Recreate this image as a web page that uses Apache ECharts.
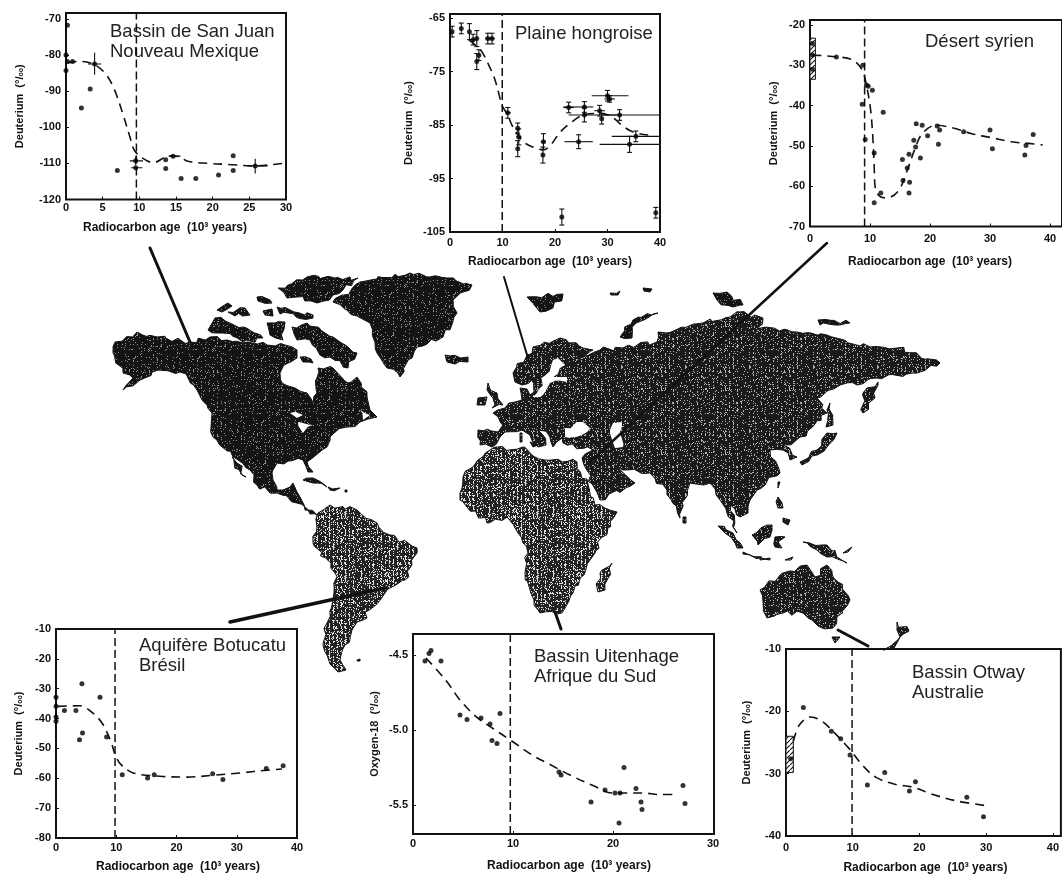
<!DOCTYPE html>
<html>
<head>
<meta charset="utf-8">
<style>html,body{margin:0;padding:0;background:#fff}#c{width:1062px;height:877px}</style>
<script src="https://cdn.jsdelivr.net/npm/echarts@6/dist/echarts.min.js"></script>
</head>
<body>
<div id="c"></div>
<script>
// ---------- Panel data (x in 10^3 years, y in per mil) ----------
const sanJuanPoints = [[0.2,-71.8],[0,-80],[0,-84.3],[0.2,-81.8],[0.9,-81.8],[2.1,-94.7],[3.3,-89.4],[3.9,-82.5],[7,-112],[9.5,-109.3],[9.5,-111.2],[13.6,-109],[13.6,-111.4],[14.6,-108],[15.7,-114.2],[17.7,-114.2],[20.8,-113.2],[22.8,-107.9],[22.8,-112],[25.8,-110.7]];
const sanJuanCurve = [[0.2,-82.2],[1.8,-81.8],[3.9,-82.7],[5.5,-85.5],[6.6,-89.6],[7.8,-96.6],[8.7,-102.6],[9.3,-106.3],[10.5,-108.6],[11.9,-109.8],[14.1,-107.9],[15.3,-108.1],[16.6,-109.4],[19.4,-110],[22.1,-110.3],[25.5,-110.7],[29.6,-110]];
const sanJuanErrors = [[3.9,-82.5,3,4.8,-85.5,-79.4],[9.5,-109.3,8.7,10.5,-110.5,-108],[9.5,-111.2,8.9,10.4,-111.2,-111.2],[25.8,-110.7,24.7,27.5,-112.8,-108.7],[14.6,-108,14,15.6,-108,-108]];
const plainePoints = [[0.4,-67.5],[2.15,-66.9],[3.7,-67.5],[4.4,-69],[5.1,-68.8],[5.1,-73.1],[5.5,-71.9],[7.2,-68.8],[8,-68.8],[11,-82.7],[12.9,-85.6],[13.1,-87.2],[12.9,-89.4],[17.7,-90.6],[17.8,-88.1],[21.3,-102.2],[22.6,-81.7],[24.5,-88.1],[25.6,-81.6],[25.6,-83.1],[28.5,-82.3],[28.9,-83.8],[30,-79.5],[30.4,-80.1],[32.3,-83.1],[34.2,-88.6],[35.4,-87.1],[39.2,-101.4]];
const plaineCurve = [[3.6,-69.1],[5.8,-70.9],[7.4,-73.8],[8.5,-76.3],[9.3,-79.1],[9.9,-81.3],[11,-83.1],[11.8,-85],[13.7,-87.8],[15.3,-88.9],[17.8,-89.6],[19.1,-88.8],[21,-86.3],[23.2,-84.4],[25.4,-83.1],[28.6,-82.8],[30.8,-83.4],[32.7,-85],[34.9,-86.3],[38.1,-86.9]];
const plaineErrors = [[0.4,-67.5,0.4,0.4,-68.5,-66.5],[2.15,-66.9,2.15,2.15,-67.9,-65.9],[3.7,-67.5,3.7,3.7,-69,-66],[4.4,-69,3.8,5,-70,-68],[5.1,-68.8,5.1,5.1,-70.3,-67.3],[5.1,-73.1,5.1,5.1,-74.6,-71.6],[5.5,-71.9,5.5,5.5,-72.9,-70.9],[7.2,-68.8,6.7,7.7,-69.8,-67.8],[8,-68.8,7.5,8.5,-69.8,-67.8],[11,-82.7,10.6,11.6,-83.7,-81.7],[12.9,-85.6,12.9,12.9,-86.6,-84.6],[13.1,-87.2,12.6,13.6,-88.7,-85.7],[12.9,-89.4,12.9,12.9,-90.9,-87.9],[17.7,-90.6,17.7,17.7,-92.1,-89.1],[17.8,-88.1,17.3,18.3,-89.6,-86.6],[21.3,-102.2,21.3,21.3,-103.7,-100.7],[22.6,-81.7,21.6,23.6,-82.7,-80.7],[24.5,-88.1,21.8,27.2,-89.4,-86.8],[25.6,-81.6,21.6,27.3,-82.6,-80.6],[25.6,-83.1,22.6,31.8,-84.4,-81.8],[28.5,-82.3,27.5,29.5,-83.3,-81.3],[28.9,-83.8,28.9,28.9,-84.8,-82.8],[30,-79.5,27,34,-80.5,-78.5],[30.4,-80.1,29.4,31.4,-80.7,-79.5],[32.3,-83.1,29,40,-84.1,-82.1],[34.2,-88.6,28.5,40,-90.1,-87.1],[35.4,-87.1,30.8,40,-88.1,-86.1],[39.2,-101.4,39.2,39.2,-102.4,-100.4]];
const desertPoints = [[0.4,-24.6],[0.4,-27.5],[0.4,-31],[4.4,-28],[8.8,-30],[9.4,-34.9],[9.7,-35.2],[10.4,-36.2],[8.7,-39.7],[9.2,-48.4],[10.7,-51.8],[12.2,-41.7],[10.7,-64.1],[11.8,-61.7],[15.4,-53.4],[16.5,-52.1],[16.2,-55.5],[15.5,-58.6],[16.6,-59],[16.5,-61.7],[17.3,-48.6],[17.7,-44.5],[18.7,-44.9],[17.6,-50.3],[18.4,-53],[19.6,-47.5],[21.2,-45.1],[21.6,-46.1],[21.4,-49.6],[25.6,-46.5],[30,-46.1],[30.4,-50.7],[35.8,-52.3],[36,-49.9],[37.2,-47.2]];
const desertCurve = [[0.4,-27.5],[4.3,-27.9],[7.1,-28.7],[8.7,-31.2],[9.4,-34.9],[10.1,-41.1],[10.5,-48.6],[10.7,-55.3],[10.9,-60.6],[11.8,-62.7],[12.9,-62.9],[14.8,-61],[16.2,-56.1],[17.6,-50.3],[18.7,-47],[20.9,-44.9],[23.7,-45.5],[27,-47],[30.3,-48],[33.6,-49],[36.4,-49.4],[38.8,-49.8]];
const desertBand = [[0,0.9,-33.5,-23.3]];
const botucatuPoints = [[0,-32.9],[0,-35.9],[0,-39.5],[0,-40.9],[1.4,-37.3],[3.3,-37.3],[4.3,-28.3],[3.9,-47.1],[4.4,-44.8],[7.3,-32.9],[8.4,-46.2],[11,-58.8],[15.2,-59.9],[16.3,-58.8],[26,-58.5],[27.7,-60.4],[34.9,-56.7],[37.7,-55.8]];
const botucatuCurve = [[0.3,-35.9],[3.9,-35.7],[6.1,-38.1],[7.8,-42],[9.2,-48.2],[9.9,-52.6],[10.8,-55.4],[12.8,-58.2],[17.2,-59.3],[21.7,-59.6],[26.1,-59],[30.6,-58.2],[35,-57.3],[37.5,-56.9]];
const uitenhagePoints = [[1.2,-4.54],[1.6,-4.49],[1.8,-4.47],[2.8,-4.54],[4.7,-4.9],[5.4,-4.93],[6.8,-4.92],[7.7,-4.96],[7.9,-5.07],[8.4,-5.09],[8.7,-4.89],[14.6,-5.28],[14.8,-5.3],[17.8,-5.48],[19.2,-5.4],[20.2,-5.42],[20.7,-5.42],[21.1,-5.25],[20.6,-5.62],[22.3,-5.39],[22.8,-5.48],[22.9,-5.53],[27,-5.37],[27.2,-5.49]];
const uitenhageCurve = [[1.3,-4.52],[3.3,-4.67],[4.7,-4.8],[6.3,-4.91],[8,-4.99],[9.8,-5.07],[12,-5.17],[13.7,-5.23],[15.7,-5.3],[18,-5.37],[20,-5.42],[21.3,-5.42],[23,-5.42],[24.7,-5.43],[26.3,-5.43]];
const otwayPoints = [[0.7,-27.6],[2.6,-19.4],[6.8,-23.2],[8.2,-24.4],[9.6,-27],[12.2,-31.8],[14.8,-29.8],[18.5,-32.8],[19.4,-31.3],[27.1,-33.8],[29.6,-36.9]];
const otwayCurve = [[1.1,-24.8],[2,-22.2],[3.7,-20.9],[5.4,-21.6],[7.3,-23.5],[9.4,-25.9],[11.6,-28.8],[13.5,-30.6],[16.3,-31.7],[19.1,-32.2],[21.9,-33.3],[25.7,-34.4],[30.5,-35.2]];
const otwayBand = [[0,1.1,-29.8,-24]];

// ---------- Tick labels ----------
const xTicks5 = [0,5,10,15,20,25,30];
const xTicks10to40 = [0,10,20,30,40];
const xTicks10to30 = [0,10,20,30];
const sanJuanY = [-120,-110,-100,-90,-80,-70];
const plaineY = [-105,-95,-85,-75,-65];
const desertY = [-70,-60,-50,-40,-30,-20];
const botucatuY = [-80,-70,-60,-50,-40,-30,-20,-10];
const uitenhageY = [-5.5,-5,-4.5];
const otwayY = [-40,-30,-20,-10];

// ---------- Panel titles ----------
const panelTitles = ['Bassin de San Juan\nNouveau Mexique','Plaine hongroise','Désert syrien','Aquifère Botucatu\nBrésil','Bassin Uitenhage\nAfrique du Sud','Bassin Otway\nAustralie'];
const xName = 'Radiocarbon age  (10³ years)';

// ---------- Base map outlines, in page-pixel map units ----------
const mapDark = [
 [[113,353],[115,342],[137,332],[157,337],[190,342],[210,337],[227,340],[243,343],[267,345],[285,345],[297,350],[297,358],[288,363],[280,373],[282,383],[295,388],[307,393],[313,403],[317,393],[318,368],[333,368],[348,383],[357,377],[367,397],[370,410],[377,417],[368,419],[360,422],[347,427],[330,437],[327,447],[316,455],[307,462],[313,472],[308,472],[303,460],[277,463],[272,473],[277,490],[290,487],[293,483],[297,492],[300,497],[305,510],[317,515],[320,517],[310,514],[297,503],[277,493],[257,485],[250,470],[233,457],[213,437],[212,413],[197,390],[180,372],[158,370],[140,380],[123,390],[133,378],[123,373]],
 [[333,302],[360,282],[410,273],[447,278],[472,285],[453,300],[457,313],[443,337],[417,347],[400,377],[387,368],[377,353],[370,323],[347,310]],
 [[278,288],[307,277],[358,278],[333,295],[317,303],[297,297],[287,298]],
 [[292,327],[307,323],[333,337],[357,353],[348,368],[330,357],[320,355],[310,340],[297,340]],
 [[208,330],[215,318],[243,327],[263,338],[243,342],[223,333]],
 [[217,310],[228,303],[232,306],[222,312]],
 [[228,312],[245,308],[250,315],[235,316]],
 [[257,297],[270,300],[272,303],[258,301]],
 [[263,311],[272,309],[273,316],[265,315]],
 [[277,307],[313,315],[313,318],[280,314]],
 [[267,323],[285,322],[283,340],[270,335]],
 [[300,357],[311,359],[313,363],[303,362]],
 [[232,457],[237,463],[246,477],[242,475]],
 [[303,480],[313,478],[327,487],[313,483]],
 [[328,487],[340,488],[330,490]],
 [[345,490],[347,490],[347,492],[345,492]],
 [[445,355],[468,357],[468,362],[455,364],[447,362]],
 [[527,297],[563,294],[553,308],[540,312]],
 [[658,313],[633,320],[620,337],[632,338],[632,327]],
 [[713,293],[727,292],[743,305],[733,307],[717,300]],
 [[818,320],[850,323],[840,325],[820,325]],
 [[610,293],[620,291],[618,295],[611,295]],
 [[643,288],[652,289],[650,292],[644,291]],
 [[357,660],[360,659],[360,661],[357,661]]
];
const mapMedium = [
 [[513,373],[533,347],[560,338],[593,350],[583,357],[600,350],[623,348],[657,342],[658,332],[667,333],[703,323],[740,312],[763,318],[757,328],[797,332],[827,335],[870,347],[897,348],[940,363],[913,373],[877,378],[857,385],[840,385],[817,398],[827,413],[800,437],[783,445],[797,457],[790,460],[783,450],[770,450],[780,473],[757,490],[750,500],[748,513],[740,517],[731,505],[737,533],[727,513],[720,500],[710,483],[690,483],[680,518],[667,490],[650,473],[623,470],[617,467],[635,483],[600,500],[584,465],[582,458],[593,450],[563,443],[562,438],[553,447],[550,437],[538,430],[546,445],[538,447],[530,435],[522,430],[505,432],[500,437],[492,447],[480,445],[478,430],[498,432],[503,425],[493,413],[505,408],[522,400],[520,388],[527,389],[530,395],[534,392],[532,380],[522,385],[515,382]],
 [[878,382],[863,393],[863,413],[875,398]],
 [[830,403],[833,425],[826,427],[827,410]],
 [[827,433],[837,433],[827,447],[817,455],[802,465],[800,462],[817,450]],
 [[488,383],[497,393],[503,405],[492,408],[493,398],[487,390]],
 [[478,398],[487,397],[485,405],[477,405]],
 [[520,433],[522,433],[522,442],[520,442]],
 [[530,442],[538,445],[533,447]],
 [[683,517],[686,517],[686,523],[683,523]],
 [[718,526],[733,533],[743,548],[737,548],[725,533]],
 [[743,552],[762,557],[760,558],[743,554]],
 [[752,535],[772,525],[770,537],[758,545]],
 [[775,537],[785,537],[778,542],[782,548],[775,547]],
 [[778,497],[783,508],[778,508]],
 [[783,518],[790,520],[788,525],[783,522]],
 [[778,482],[780,482],[778,488]],
 [[803,542],[827,545],[847,563],[827,557],[817,550]],
 [[843,553],[852,547],[848,552]],
 [[785,560],[793,557],[791,560]],
 [[760,558],[770,558],[770,560],[760,560]],
 [[897,622],[909,631],[900,637],[897,630]],
 [[892,645],[900,637],[894,648],[883,650]],
 [[832,637],[840,637],[835,643]],
 [[760,590],[783,573],[807,565],[815,577],[827,565],[850,600],[833,628],[822,628],[803,613],[783,613],[767,618]]
];
const mapLight = [
 [[490,450],[523,447],[545,460],[577,462],[595,505],[617,512],[590,560],[573,593],[562,613],[540,613],[525,573],[528,553],[518,533],[507,517],[487,523],[460,500],[463,477]],
 [[612,563],[605,590],[598,592],[600,573]],
 [[318,513],[330,505],[357,510],[377,523],[390,535],[417,548],[405,580],[387,590],[383,596],[365,612],[367,618],[357,622],[352,630],[345,645],[340,660],[346,670],[338,672],[330,664],[327,655],[323,645],[327,623],[333,600],[335,573],[313,543],[317,527]]
];
const mapWaters = [
 [[537,393],[553,360],[558,358],[565,365],[553,377],[567,377],[567,382],[550,383],[543,395],[533,397]],
 [[565,428],[583,422],[590,428],[582,435],[565,437]],
 [[613,423],[622,422],[620,432],[623,447],[615,448],[610,433]],
 [[290,413],[303,415],[297,418]],
 [[298,422],[313,425],[303,433]],
 [[360,410],[370,415],[363,420]]
];
const connectors = [
 [[150,248],[190,342]],
 [[504,277],[530,365]],
 [[827,243],[590,462]],
 [[230,622],[385,588]],
 [[555,612],[561,629]],
 [[838,630],[868,646]]
];
const connectorWidths = [3,2,2.5,3.5,3,3];

// ---------- Fill textures (fixed scan-like grain for the land) ----------
function grain(x,y){ // deterministic hash of a pixel position
  let h = (x*374761393 + y*668265263) | 0;
  h = Math.imul(h ^ (h>>>13), 1274126177);
  return ((h ^ (h>>>16))>>>0) / 4294967295;
}
function tile(dark, light, density){
  const n = 64, cv = document.createElement('canvas');
  cv.width = n; cv.height = n;
  const g = cv.getContext('2d');
  g.fillStyle = dark; g.fillRect(0,0,n,n);
  g.fillStyle = light;
  for(let y=0;y<n;y++) for(let x=0;x<n;x++){
    const col = x%4===1 ? 1.8 : 0.55;
    if(grain(x,y) < density*col) g.fillRect(x,y,1,1);
  }
  return cv;
}
function hatch(){
  const cv = document.createElement('canvas'); cv.width = 5; cv.height = 5;
  const g = cv.getContext('2d');
  g.fillStyle='#fff'; g.fillRect(0,0,5,5);
  g.strokeStyle='#111'; g.lineWidth=1.1;
  g.beginPath(); g.moveTo(-1,6); g.lineTo(6,-1); g.stroke();
  return cv;
}
const fills = {dark: tile('#141414','#8f8f8f',0.1), medium: tile('#1a1a1a','#b4b4b4',0.16), light: tile('#222','#e0e0e0',0.28), hatch: hatch()};

// Irregular coast: split long edges and nudge the new vertices a little
function roughen(poly){
  const out = [];
  poly.forEach((a,i)=>{
    const b = poly[(i+1)%poly.length], d = Math.hypot(b[0]-a[0],b[1]-a[1]), n = Math.floor(d/5);
    out.push(a);
    for(let k=1;k<n;k++){
      const t = k/n, px = a[0]+(b[0]-a[0])*t, py = a[1]+(b[1]-a[1])*t;
      out.push([px+(grain(Math.round(px),Math.round(py))-0.5)*5, py+(grain(Math.round(py),Math.round(px))-0.5)*5]);
    }
  });
  return out;
}

// ---------- Assembly ----------
const ink = '#111';
const font = '"Liberation Sans", Arial, sans-serif';
const panels = [
 {pts:sanJuanPoints,curve:sanJuanCurve,err:sanJuanErrors,caps:false,xt:xTicks5,yt:sanJuanY,vline:9.6,box:[66,13,220,186.5],x:[0,30],y:[-120,-68.4],mx:3,my:5,gapX:22,gapY:41,shift:11,tl:[110,22]},
 {pts:plainePoints,curve:plaineCurve,err:plaineErrors,caps:true,xt:xTicks10to40,yt:plaineY,vline:9.95,box:[450,14,210,218],x:[0,40],y:[-105,-64.2],mx:5,my:5,gapX:24,gapY:36,shift:5,tl:[515,24]},
 {pts:desertPoints,curve:desertCurve,band:desertBand,xt:xTicks10to40,yt:desertY,vline:9.1,box:[810,20,254,206.5],x:[0,42],y:[-70,-18.8],mx:7,my:5,gapX:29,gapY:31,shift:6,tl:[925,32]},
 {pts:botucatuPoints,curve:botucatuCurve,xt:xTicks10to40,yt:botucatuY,vline:9.8,box:[56,629,241,209],x:[0,40],y:[-80,-10],mx:4,my:5,gapX:23,gapY:32,shift:-1.5,tl:[139,636]},
 {pts:uitenhagePoints,curve:uitenhageCurve,xt:xTicks10to30,yt:uitenhageY,vline:9.73,box:[413,634,301,200],x:[0,30.1],y:[-5.693,-4.36],mx:4,my:5,gapX:26,gapY:33,dec:1,shift:-5.5,tl:[534,647]},
 {pts:otwayPoints,curve:otwayCurve,band:otwayBand,xt:xTicks10to40,yt:otwayY,vline:9.9,box:[786,649,290,187],x:[0,41.2],y:[-40,-10],mx:6,my:5,gapX:26,gapY:34,shift:-2,tl:[912,663]}
];
const yNames = ['Deuterium','Deuterium','Deuterium','Deuterium','Oxygen-18','Deuterium'];

const grid = [], xAxis = [], yAxis = [], series = [], title = [];
panels.forEach((p,i)=>{
  grid.push({left:p.box[0],top:p.box[1],width:p.box[2],height:p.box[3],show:true,borderColor:ink,borderWidth:2,backgroundColor:'transparent',z:3});
  xAxis.push({type:'value',gridIndex:i,min:p.x[0],max:p.x[1],splitLine:{show:false},axisLine:{show:false},
    axisTick:{show:true,inside:true,length:3,customValues:p.xt,lineStyle:{color:ink,width:1}},
    axisLabel:{customValues:p.xt,margin:p.mx,color:ink,fontFamily:font,fontWeight:'bold',fontSize:11,showMinLabel:true,showMaxLabel:true},
    name:xName,nameLocation:'middle',nameGap:p.gapX,
    nameTextStyle:{color:ink,fontFamily:font,fontWeight:'bold',fontSize:12,padding:[0,Math.max(p.shift,0)*2,0,Math.max(-p.shift,0)*2]}});
  yAxis.push({type:'value',gridIndex:i,min:p.y[0],max:p.y[1],splitLine:{show:false},axisLine:{show:false},
    axisTick:{show:true,inside:true,length:3,customValues:p.yt,lineStyle:{color:ink,width:1}},
    axisLabel:{customValues:p.yt,margin:p.my,color:ink,fontFamily:font,fontWeight:'bold',fontSize:11,showMinLabel:true,showMaxLabel:true,
      formatter:v=>p.dec?Number(v).toFixed(p.dec):String(v)},
    name:'{n|'+yNames[i]+'  (°/}{s|oo}{n|)}',nameLocation:'middle',nameGap:p.gapY,nameRotate:90,
    nameTextStyle:{rich:{n:{color:ink,fontFamily:font,fontWeight:'bold',fontSize:11},s:{color:ink,fontFamily:font,fontWeight:'bold',fontSize:7,verticalAlign:'bottom'}}}});
  title.push({text:panelTitles[i],left:p.tl[0],top:p.tl[1],padding:0,textStyle:{fontFamily:font,fontWeight:'normal',fontSize:18.5,lineHeight:20,color:'#222'}});
  const ax = {xAxisIndex:i,yAxisIndex:i,animation:false,silent:true,z:6};
  if(p.band) series.push({...ax,type:'custom',clip:true,data:p.band,encode:{x:[0,1],y:[2,3]},renderItem:(prm,api)=>{
    const a=api.coord([api.value(0),api.value(3)]),b=api.coord([api.value(1),api.value(2)]);
    return {type:'rect',shape:{x:a[0],y:a[1],width:b[0]-a[0],height:b[1]-a[1]},style:{fill:{image:fills.hatch,repeat:'repeat'},stroke:ink,lineWidth:1}};
  }});
  series.push({...ax,type:'line',data:[[p.vline,p.y[0]],[p.vline,p.y[1]]],showSymbol:false,symbol:'none',lineStyle:{color:ink,width:1.5,type:[8,4]}});
  series.push({...ax,type:'line',data:p.curve,smooth:0.35,showSymbol:false,symbol:'none',lineStyle:{color:ink,width:1.6,type:[9,6]}});
  if(p.err) series.push({...ax,type:'custom',clip:true,data:p.err,encode:{x:[0,2,3],y:[1,4,5]},renderItem:(prm,api)=>{
    const c=api.coord([api.value(0),api.value(1)]),l=api.coord([api.value(2),api.value(1)]),r=api.coord([api.value(3),api.value(1)]),
          t=api.coord([api.value(0),api.value(5)]),b=api.coord([api.value(0),api.value(4)]);
    const st={stroke:ink,lineWidth:1.1}, kids=[];
    const seg=(x1,y1,x2,y2)=>kids.push({type:'line',shape:{x1,y1,x2,y2},style:st});
    if(r[0]-l[0]>0.5) seg(l[0],c[1],r[0],c[1]);
    if(b[1]-t[1]>0.5){ seg(c[0],t[1],c[0],b[1]);
      if(p.caps){ seg(c[0]-2.5,t[1],c[0]+2.5,t[1]); seg(c[0]-2.5,b[1],c[0]+2.5,b[1]); } }
    return {type:'group',children:kids};
  }});
  series.push({...ax,type:'scatter',data:p.pts,symbol:'circle',symbolSize:5,itemStyle:{color:'#000'},clip:false});
});

// Full-page axes carrying the base map and the leader lines
const M = panels.length;
grid.push({left:0,top:0,width:1062,height:877,show:false,z:1});
xAxis.push({type:'value',gridIndex:M,min:0,max:1062,show:false});
yAxis.push({type:'value',gridIndex:M,min:0,max:877,inverse:true,show:false});
const mapAx = {xAxisIndex:M,yAxisIndex:M,coordinateSystem:'cartesian2d',animation:false,silent:true,clip:false};
function landSeries(polys, fill, z){
  const rough = polys.map(roughen);
  return {...mapAx,type:'custom',z,data:polys.map(q=>q[0]),encode:{x:0,y:1},renderItem:(prm,api)=>({
    type:'polygon',shape:{points:rough[prm.dataIndex].map(q=>api.coord(q))},
    style:{fill:fill,stroke:fill.image?'#111':'#fff',lineWidth:fill.image?1:0}
  })};
}
series.push(landSeries(mapDark,{image:fills.dark,repeat:'repeat'},1));
series.push(landSeries(mapMedium,{image:fills.medium,repeat:'repeat'},1));
series.push(landSeries(mapLight,{image:fills.light,repeat:'repeat'},1));
series.push(landSeries(mapWaters,'#fff',2));
connectors.forEach((c,i)=>series.push({...mapAx,type:'line',z:4,data:c,showSymbol:false,symbol:'none',lineStyle:{color:'#111',width:connectorWidths[i],cap:'round'}}));

const chart = echarts.init(document.getElementById('c'),null,{renderer:'canvas'});
chart.setOption({animation:false,backgroundColor:'#fff',title,grid,xAxis,yAxis,series,tooltip:{show:false},legend:{show:false}});
</script>
</body>
</html>
